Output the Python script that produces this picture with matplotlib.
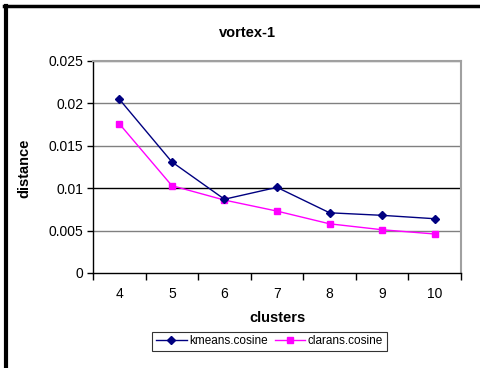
import matplotlib.pyplot as plt
from matplotlib.lines import Line2D

plt.rcParams['font.family'] = ['Liberation Sans', 'DejaVu Sans']

clusters = ['4', '5', '6', '7', '8', '9', '10']
kmeans_cosine = [0.0205, 0.0131, 0.0087, 0.0101, 0.0071, 0.0068, 0.0064]
clarans_cosine = [0.0176, 0.0103, 0.0086, 0.0073, 0.0058, 0.0051, 0.0046]
yticks = [0, 0.005, 0.01, 0.015, 0.02, 0.025]
ytick_labels = ['0', '0.005', '0.01', '0.015', '0.02', '0.025']

fig = plt.figure(figsize=(4.8, 3.68), dpi=100)
ax = fig.add_axes([93 / 480, 1 - 273 / 368, (461 - 93) / 480, (273 - 61) / 368])

xs = list(range(len(clusters)))

# gridlines (the 0.01 one is drawn darker)
for y in yticks[1:]:
    col = 'black' if y == 0.01 else '#808080'
    ax.axhline(y, color=col, linewidth=1, zorder=1)

ax.plot(xs, kmeans_cosine, color='#000080', marker='D', markersize=4.5,
        linewidth=1, label='kmeans.cosine', zorder=3)
ax.plot(xs, clarans_cosine, color='#ff00ff', marker='s', markersize=5,
        linewidth=1, label='clarans.cosine', zorder=2)

ax.set_xlim(-0.5, len(clusters) - 0.5)
ax.set_ylim(0, 0.025)
ax.set_xticks(xs)
ax.set_xticklabels(clusters)
ax.set_xticks([x - 0.5 for x in range(len(clusters) + 1)], minor=True)
ax.tick_params(axis='x', which='major', length=0, pad=10, labelsize=10)
ax.tick_params(axis='x', which='minor', length=5, width=1, direction='out')
ax.set_yticks(yticks)
ax.set_yticklabels(ytick_labels)
ax.tick_params(axis='y', length=4, width=1, direction='out', pad=3, labelsize=10)

for side in ['top', 'right']:
    ax.spines[side].set_color('#a0a0a0')
    ax.spines[side].set_linewidth(1.5)
for side in ['left', 'bottom']:
    ax.spines[side].set_color('black')
    ax.spines[side].set_linewidth(1)

ax.set_xlabel('clusters', fontsize=10.5, fontweight='bold', labelpad=7)
fig.text(24 / 480, 1 - 168 / 368, 'distance', rotation=90, fontsize=10.5,
         fontweight='bold', ha='center', va='center')
fig.text(247 / 480, 1 - 33 / 368, 'vortex-1', fontsize=10.5, fontweight='bold',
         ha='center', va='center')

leg = fig.legend(loc='center', bbox_to_anchor=(269.5 / 480, 1 - 341.5 / 368),
                 ncol=2, fontsize=8.5, frameon=True, fancybox=False,
                 edgecolor='black', borderpad=0.3, handlelength=2.6,
                 handletextpad=0.2, columnspacing=0.6)
leg.get_frame().set_linewidth(0.8)

# black frame along the top and left edges
fig.add_artist(Line2D([6 / 480, 6 / 480], [0, 1 - 5.5 / 368], color='black',
                      linewidth=3, transform=fig.transFigure))
fig.add_artist(Line2D([4 / 480, 1], [1 - 5.5 / 368, 1 - 5.5 / 368], color='black',
                      linewidth=2.5, transform=fig.transFigure))

fig.savefig('out.png', dpi=100)
